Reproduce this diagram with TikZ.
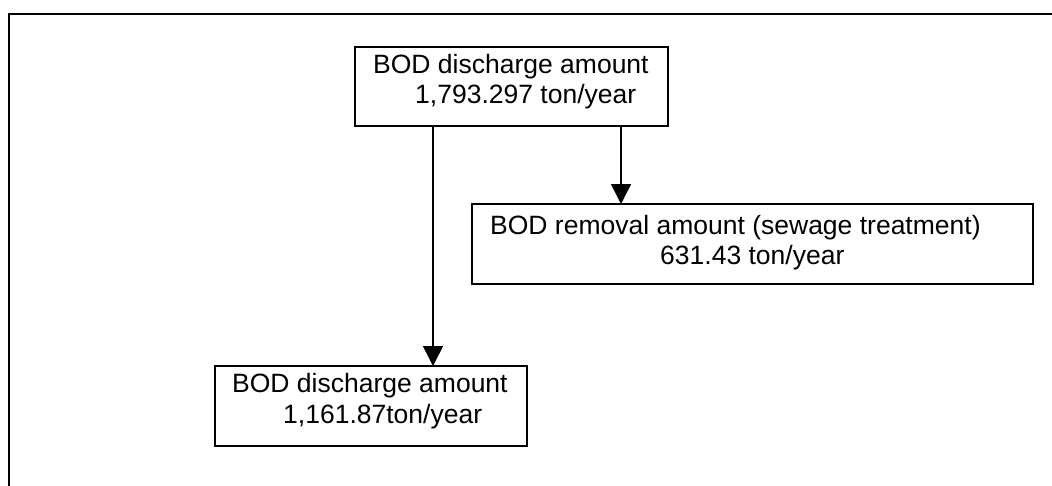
\documentclass[tikz,border=0pt]{standalone}
\usepackage{fontspec}
\setmainfont{Liberation Sans}
\usetikzlibrary{arrows.meta}
\begin{document}
\begin{tikzpicture}[x=1pt,y=-1pt]
\tikzset{
  frameline/.style={line width=2.2pt, line cap=rect},
  box/.style={draw=black, line width=1.7pt, inner sep=0pt, outer sep=0pt, anchor=north west},
  txt/.style={anchor=base west, inner sep=0pt, font=\fontsize{26.5}{30.5}\selectfont},
  flow/.style={line width=1.5pt, -{Triangle[width=20pt,length=20pt]}},
}
\useasboundingbox (0,0) rectangle (1052,485);

% page frame (top and left edges only)
\draw[frameline] (9,485) -- (9,14) -- (1052,14);

% boxes
\node[box, minimum width=313pt, minimum height=79pt] (top) at (355,47) {};
\node[box, minimum width=561pt, minimum height=80pt] (rem) at (472,204) {};
\node[box, minimum width=312pt, minimum height=80pt] (bot) at (215,366) {};

% box texts
\node[txt] (topa) at (373,73)  {BOD discharge amount};
\node[txt] (topb) at (415,103) {1,793.297 ton/year};
\node[txt] (rema) at (490,234) {BOD removal amount (sewage treatment)};
\node[txt] (remb) at (660,264) {631.43 ton/year};
\node[txt] (bota) at (232,392) {BOD discharge amount};
\node[txt] (botb) at (283,423) {1,161.87ton/year};

% connectors
\coordinate (lx) at (433,0);
\coordinate (rx) at (621,0);
\draw[flow] (lx |- top.south) -- (lx |- bot.north);
\draw[flow] (rx |- top.south) -- (rx |- rem.north);
\end{tikzpicture}
\end{document}
